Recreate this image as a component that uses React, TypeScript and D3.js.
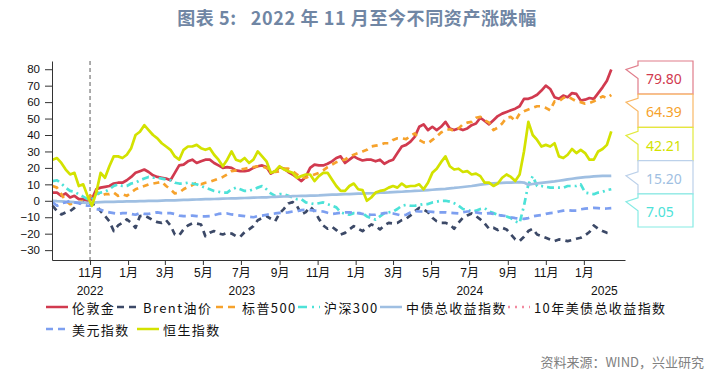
import React, { useEffect, useRef } from 'react'
import * as d3 from 'd3'

// weekly readings, first point 2022-09-02
const firstDate = new Date(2022, 8, 2)

const goldValues = [5, 5, 3, 4.5, 2, 3, 1, 1, 0, 1, 7, 8, 8.5, 9, 10.5, 11, 11, 12.5, 14.5, 17, 18, 19, 17.5, 15.5, 14.5, 14, 13.5, 12.5, 17, 21.5, 22, 24, 25, 23,
  24, 25, 25, 23, 21.5, 20, 20.5, 20, 18.5, 18, 18, 18.5, 20, 21, 21.5, 20.5, 16.5, 18, 20.5, 19.5, 17.5, 16, 14, 12, 14.5, 20, 22, 21.5, 21.5, 22.5, 24, 26, 27, 23,
  25, 27, 25.5, 24.5, 25, 25, 24, 25, 22.5, 24, 25, 29, 33, 34, 36, 39, 45, 46.5, 43, 45, 43, 45, 48, 44, 43, 44, 43, 44, 46, 47, 50.5, 48.5, 46.5,
  49, 51.5, 53, 54, 55, 56, 57.5, 62, 62, 63, 64.5, 67, 70, 68, 63, 62, 64, 63, 65.5, 65, 61, 61.5, 62.5, 62, 65.5, 69, 73, 79.8]

const brentValues = [-3, -6.3, -8.3, -7, -6.3, -4.3, -1.6, -0.8, -1.2, -1.6, -2.8, -6.3, -9.3, -12.4, -18.4, -15, -13.4, -11.3, -13.4, -16.4, -9.3, -9, -10.3, -11.8, -13, -13.4, -11.8, -15, -20.5, -21, -17.4, -15, -13.8, -13.8,
  -14.4, -21.5, -19.5, -18.4, -19.9, -20.5, -19.5, -19.9, -21.5, -21.9, -19, -17.4, -15.4, -11.8, -10.5, -9.3, -10.9, -12.4, -7.7, -4.9, -1.6, -0.8, -3.2, -8.3, -6.9, -3.6, -6.3, -10.9, -15, -17, -15.8, -17.8, -20.5, -19.5,
  -17.4, -15.4, -17, -18.4, -16.4, -14.4, -15.4, -17.4, -15, -13.4, -13.8, -13.4, -11.8, -10.9, -8.9, -6.3, -4.3, -5.3, -6.9, -10.3, -12.4, -13.4, -13.4, -14.4, -17, -13.4, -10.3, -8.9, -7.7, -9.3, -11.3, -13.8, -17,
  -16.4, -17.8, -16.4, -17.4, -20.5, -23.5, -24.5, -21.9, -18.4, -17, -20.5, -21.5, -22.5, -23.5, -24.5, -23.5, -23.9, -24.5, -23.9, -23.1, -22.5, -21, -19, -15, -17, -18.4, -19.5, -19.9]

const spxValues = [9, 8, 4, 0, -2, -1.5, -1, 0, 1, 4, 6, 3, 4, 4, 5, 3, 4, 3, 5, 7, 8, 9, 10, 10.5, 11, 11.5, 9, 7, 4.5, 5, 7, 8.5, 9.5, 11,
  10, 11, 11.5, 12.5, 13.5, 14.5, 16, 18, 18.5, 19, 19.5, 20, 20.5, 21, 21, 20, 18.5, 17.5, 18, 19.5, 19.5, 18, 16, 14, 14, 15, 16, 17, 18.5, 20.5, 22, 23.5, 24.5, 25,
  27, 28, 29, 30, 31, 33, 33.5, 34, 35, 35, 37, 38, 38, 37.5, 39.5, 41, 37, 35.5, 35, 37, 39, 41.5, 43, 43.5, 42.5, 44, 46.5, 47.5, 48, 50.5, 51, 49, 47.5,
  43, 44.5, 47, 50.5, 51, 48.5, 53, 54.5, 55.5, 56.5, 57.5, 57.5, 56.5, 55, 60.5, 60.5, 62.5, 63.5, 62, 60.5, 60, 59, 59.5, 60.5, 62, 63.5, 62.5, 64.39]

const csi300Values = [12, 12.5, 10.5, 8, 6, 5.5, 4, 2.5, 1, 1, 4, 5, 5.5, 7, 9, 10, 9, 9, 10.5, 11, 12.5, 13.5, 14.5, 14, 14, 13.5, 13, 12.5, 11, 10.5, 10.5, 11, 10.5, 10,
  9, 8, 7, 6, 5.5, 5, 5, 7, 8, 7, 6, 6, 7, 8, 9, 7, 4.5, 3, 4, 4, 3, 2, 1, 1, -1, -1.5, -2, -1.5, -1, -2, -3, -4, -7, -8,
  -8.5, -7.5, -7.5, -7.5, -9.5, -10.5, -11.5, -9.5, -7.5, -7, -6.5, -5, -3, -2.5, -3, -3, -2.5, -2, -2, -1, -0.5, 0, 0, -0.5, -1.5, -3, -5, -5.5, -6.5, -6, -5, -4.5, -6.5,
  -7.5, -8.5, -9, -9.5, -10.5, -12.5, -13.5, -3, 10, 15, 9, 9, 8.5, 8, 8, 8, 8, 9, 9, 9, 10, 5, 4.5, 4, 5, 5.5, 6.5, 7.05]

const chinaBondValues = [0, -0.2, -0.3, -0.5, -0.6, -0.8, -0.9, -1.1, -1.3, -1.2, -1, -0.8, -0.7, -0.6, -0.6, -0.5, -0.5, -0.4, -0.3, -0.3, -0.2, -0.2, -0.1, 0, 0, 0.1, 0.2, 0.2, 0.3, 0.4, 0.5, 0.6, 0.7, 0.8,
  0.9, 1, 1, 1.1, 1.2, 1.3, 1.4, 1.5, 1.5, 1.6, 1.7, 1.8, 1.9, 2, 2.1, 2.1, 2.3, 2.4, 2.5, 2.6, 2.6, 2.8, 2.9, 3, 3, 3.1, 3.2, 3.3, 3.5, 3.6, 3.7, 3.8, 3.9, 4,
  4.1, 4.2, 4.3, 4.4, 4.5, 4.6, 4.7, 4.9, 5, 5.1, 5.3, 5.4, 5.5, 5.7, 5.8, 6, 6.1, 6.3, 6.5, 6.7, 6.9, 7.1, 7.3, 7.6, 7.8, 8.1, 8.4, 8.7, 9, 9.4, 9.8, 10.1, 10.4,
  10.6, 10.8, 10.9, 11, 11.1, 11.2, 11.3, 11.1, 9.8, 10.2, 10.6, 10.9, 11.2, 11.5, 11.8, 12.2, 12.6, 13, 13.4, 13.8, 14.1, 14.4, 14.6, 14.8, 15, 15.1, 15.1, 15.2]

const dollarValues = [-1, -3, -1.5, -1, 0, -1, -1.5, -2.5, -3, -3, -5, -5.5, -6.5, -7, -7.5, -8, -7.5, -7.5, -8, -8.5, -7.5, -8, -8, -7.5, -7, -7.5, -7.5, -7.5, -8, -9, -9.3, -9.3, -9, -9.3,
  -9.5, -9.5, -9.3, -8.7, -8, -7.7, -7.7, -8.3, -8.7, -9, -9.3, -9.7, -10, -9.3, -9, -8.5, -8, -7.7, -7.3, -7.3, -7, -6.5, -6.3, -5.7, -5.5, -5.7, -6, -6.3, -6.5, -7.3, -8, -7.7, -7.3, -7,
  -7, -7.3, -7.5, -8, -8.3, -8.5, -8.5, -8, -7.5, -7.3, -7.7, -8.3, -9, -8.5, -7, -6.3, -6.5, -6.5, -6.5, -6.7, -7, -7, -7, -7.3, -7.5, -7.7, -7, -6.5, -6.5, -7, -7.5, -7.8, -7.5,
  -8, -8.7, -9, -9.3, -10, -10.5, -10.8, -11, -10.5, -9.5, -9, -8.7, -8, -7.5, -7.3, -6.5, -6, -5.7, -6, -6, -5.2, -4.8, -4.5, -4.3, -4.5, -4.8, -4.7, -4.5]

const hsiValues = [25, 26, 23, 19, 16, 17, 9, 10, 3, -3, 5, 17, 14, 21, 27, 27, 26, 28, 32, 40, 42, 46, 43, 40, 38, 35, 33, 31, 27, 25, 31, 33, 33, 34,
  32, 31, 32, 28, 25, 21, 25, 30, 25, 24, 26, 23, 25, 30, 27, 24, 17, 18, 21, 19, 18, 17, 14, 15, 16, 16, 12, 15, 17, 17, 13, 9, 6, 6,
  9, 10.5, 7, 6.5, 0, 2, 5, 6, 6.5, 8, 9, 8, 10.5, 8.5, 9, 9, 10, 7, 11, 17, 19.5, 23.5, 27, 21, 19, 19.5, 17.5, 18, 16, 16.5, 15, 11, 11,
  9, 10.5, 14, 16, 14.5, 12, 16, 30, 48, 40, 37, 33, 34, 33, 35, 27, 26, 28, 31.5, 29, 31, 29, 25, 25, 30, 31.5, 34, 42.21]

const yTicks = [-30, -20, -10, 0, 10, 20, 30, 40, 50, 60, 70, 80]
const years = [2022, 2023, 2024, 2025]

const series = [
  { name: '伦敦金', values: goldValues, color: '#d13a4f', dash: null, legendDash: null },
  { name: 'Brent油价', values: brentValues, color: '#3c4967', dash: '6,5', legendDash: '7,5' },
  { name: '标普500', values: spxValues, color: '#f6a22c', dash: '6,5', legendDash: '7,5' },
  { name: '沪深300', values: csi300Values, color: '#4de2d8', dash: '7,4,2,4', legendDash: '9,5,2,5' },
  { name: '中债总收益指数', values: chinaBondValues, color: '#9fbfe2', dash: null, legendDash: null },
  { name: '10年美债总收益指数', values: null, color: '#f38aa0', dash: '2,5', legendDash: '2,5' },
  { name: '美元指数', values: dollarValues, color: '#7d9ff0', dash: '7,5', legendDash: '7,5' },
  { name: '恒生指数', values: hsiValues, color: '#d3e200', dash: null, legendDash: null },
]

// legend placement (row, x)
const legendPos = [[0, 46], [0, 117], [0, 216], [0, 298], [0, 380], [0, 508], [1, 46], [1, 137]]

// end-value callouts, top to bottom
const calloutNames = ['伦敦金', '标普500', '恒生指数', '中债总收益指数', '沪深300']
const calloutBorders = ['#e07c8a', '#f9b866', '#e2ea3c', '#bcd1ea', '#86ebe4']

const W = 724, H = 391
const left = 52, right = 625, top = 61, bottom = 260

export default function App() {
  const xAxisRef = useRef<SVGGElement>(null)
  const yAxisRef = useRef<SVGGElement>(null)

  const x = d3.scaleTime().domain([new Date(2022, 8, 1), new Date(2025, 2, 8)]).range([left, right])
  const y = d3.scaleLinear().domain([-36, 85]).range([bottom, top])

  const dates = goldValues.map((_, i) => d3.timeDay.offset(firstDate, i * 7))
  const line = d3.line<number>().x((_, i) => x(dates[i])).y(d => y(d))

  // every other month from Nov 2022 up to Jan 2025
  const monthTicks = d3.timeMonth.every(2)!.range(new Date(2022, 10, 1), new Date(2025, 1, 1))

  useEffect(() => {
    const xa = d3.axisBottom(x).tickValues(monthTicks)
      .tickFormat(d => `${(d as Date).getMonth() + 1}月`)
      .tickSize(5).tickSizeOuter(0).tickPadding(3)
    const gx = d3.select(xAxisRef.current!).call(xa)
    gx.select('.domain').attr('stroke', '#333')
    gx.selectAll('.tick line').attr('stroke', '#333')
    gx.selectAll('.tick text').attr('fill', '#111')
      .style('font-family', '"Liberation Sans", "Noto Sans CJK SC", sans-serif').style('font-size', '12px')

    const ya = d3.axisLeft(y).tickValues(yTicks).tickSize(7).tickSizeOuter(0).tickPadding(5)
    const gy = d3.select(yAxisRef.current!).call(ya)
    gy.select('.domain').attr('stroke', '#333')
    gy.selectAll('.tick line').attr('stroke', '#333')
    gy.selectAll('.tick text').attr('fill', '#111')
      .style('font-family', '"Liberation Sans", sans-serif').style('font-size', '11.5px')
  }, [])

  const [d0, d1] = x.domain()
  const yearLabels = years.map(yr => {
    const a = Math.max(+d0, +new Date(yr, 0, 1))
    const b = Math.min(+d1, +new Date(yr + 1, 0, 1))
    return { yr, cx: (x(new Date(a)) + x(new Date(b))) / 2 }
  })

  const boxL = 638, boxW = 55, boxH = 33.2, tipX = 626

  return (
    <svg width={W} height={H} style={{ position: 'absolute', left: 0, top: 0, background: '#fff' }}>
      <text x={357} y={25} textAnchor="middle" fill="#7086a4" fontWeight="bold"
        style={{ fontFamily: '"Noto Sans CJK SC", sans-serif', fontSize: 18, whiteSpace: 'pre', letterSpacing: 0.6 }}>
        {'图表 5:   2022 年 11 月至今不同资产涨跌幅'}
      </text>

      <line x1={x(new Date(2022, 10, 1))} x2={x(new Date(2022, 10, 1))} y1={top} y2={bottom}
        stroke="#777" strokeWidth={1.2} strokeDasharray="4,3" />

      {series.filter(s => s.values).map(s => (
        <path key={s.name} d={line(s.values as number[]) ?? ''} fill="none" stroke={s.color}
          strokeWidth={2.7} strokeDasharray={s.dash ?? undefined} strokeLinejoin="round" />
      ))}

      <g ref={xAxisRef} transform={`translate(0,${bottom})`} />
      <g ref={yAxisRef} transform={`translate(${left},0)`} />

      {yearLabels.map(d => (
        <text key={d.yr} x={d.cx} y={295} textAnchor="middle" fill="#111"
          style={{ fontFamily: '"Liberation Sans", sans-serif', fontSize: 12 }}>{d.yr}</text>
      ))}

      {series.map((s, i) => {
        const [row, lx] = legendPos[i]
        const ly = row === 0 ? 307 : 329
        return (
          <g key={s.name}>
            <line x1={lx} x2={lx + 22} y1={ly} y2={ly} stroke={s.color} strokeWidth={2.5}
              strokeDasharray={s.legendDash ?? undefined} />
            <text x={lx + 26} y={ly} dominantBaseline="central" fill="#111"
              style={{ fontFamily: '"Noto Sans CJK SC", sans-serif', fontSize: 13, letterSpacing: 1.4 }}>{s.name}</text>
          </g>
        )
      })}

      {calloutNames.map((name, i) => {
        const s = series.find(d => d.name === name)!
        const v = (s.values as number[])[(s.values as number[]).length - 1]
        const bt = top + i * boxH
        const bb = bt + boxH
        const ty = Math.max(bt + 8, Math.min(bb - 10, y(v)))
        const p = `M${boxL},${bt} L${boxL + boxW},${bt} L${boxL + boxW},${bb} L${boxL},${bb} L${boxL},${ty + 9} L${tipX},${ty} L${boxL},${ty - 4} Z`
        return (
          <g key={name}>
            <path d={p} fill="#fff" stroke={calloutBorders[i]} strokeWidth={1.2} />
            <text x={boxL + 8} y={bt + boxH / 2 + 1} dominantBaseline="central" fill={s.color}
              style={{ fontFamily: '"Noto Sans", sans-serif', fontSize: 14 }}>{v.toFixed(2)}</text>
          </g>
        )
      })}

      <text x={704} y={367} textAnchor="end" fill="#808080"
        style={{ fontFamily: '"Noto Sans CJK SC", sans-serif', fontSize: 13 }}>资料来源：WIND，兴业研究</text>
    </svg>
  )
}
